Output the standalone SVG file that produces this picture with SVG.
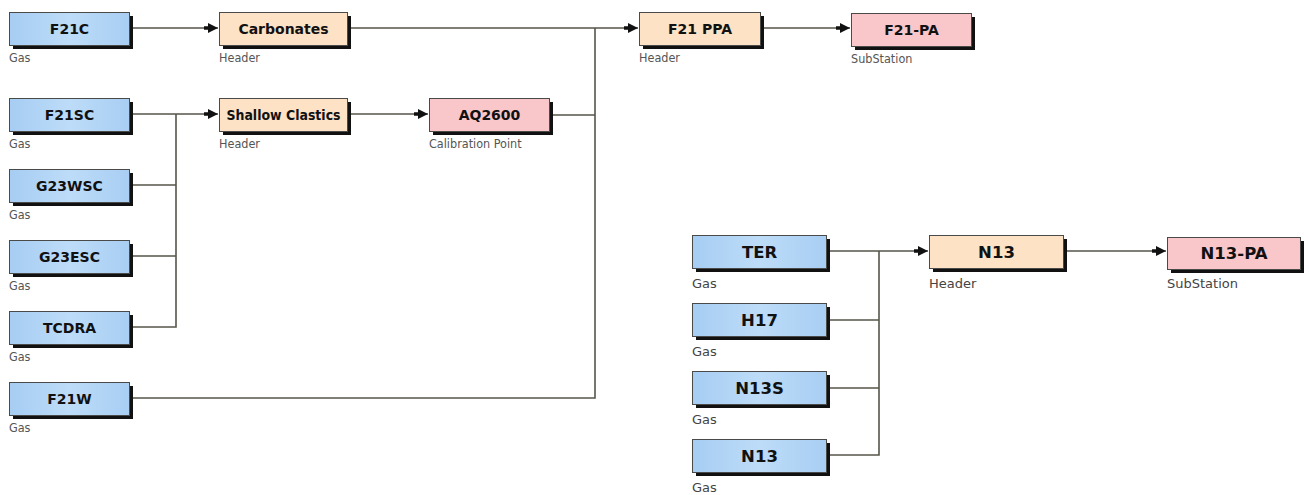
<svg xmlns="http://www.w3.org/2000/svg" width="1309" height="495" viewBox="0 0 1309 495">
<defs>
<linearGradient id="gBlue" x1="0" y1="0" x2="1" y2="0">
<stop offset="0" stop-color="#a6cdf3"/><stop offset="0.5" stop-color="#bddcf8"/><stop offset="1" stop-color="#a8cef3"/>
</linearGradient>
<marker id="arr" markerWidth="15" markerHeight="11" refX="14" refY="5.5" orient="auto" markerUnits="userSpaceOnUse">
<path d="M0,3.7 L4,3.7 L4,0.5 L14,5.5 L4,10.5 L4,7.3 L0,7.3 Z" fill="#111"/>
</marker>
<style>
.shadow{fill:#111}
.blue{fill:url(#gBlue);stroke:#4a4a48;stroke-width:1}
.hdr{fill:#fde2c6;stroke:#4a4a48;stroke-width:1}
.pink{fill:#f9c6ca;stroke:#4a4a48;stroke-width:1}
.t1{font-family:"DejaVu Sans",sans-serif;font-weight:bold;font-size:14px;fill:#111;text-anchor:middle}
.s1{font-family:"DejaVu Sans Condensed","DejaVu Sans",sans-serif;font-size:12.5px;fill:#555}
.t2{font-family:"DejaVu Sans",sans-serif;font-weight:bold;font-size:16.5px;fill:#111;text-anchor:middle}
.s2{font-family:"DejaVu Sans",sans-serif;font-size:13px;fill:#444}
.ln{fill:none;stroke:#55554a;stroke-width:1.6}
</style>
</defs>
<rect width="1309" height="495" fill="#fff"/>
<g id="connectors">
<path class="ln" d="M133,28 H218" marker-end="url(#arr)"/>
<path class="ln" d="M351,28 H638" marker-end="url(#arr)"/>
<path class="ln" d="M764,28 H850" marker-end="url(#arr)"/>
<path class="ln" d="M133,114 H218" marker-end="url(#arr)"/>
<path class="ln" d="M133,185 H176 M133,256 H176 M133,327 H176 V114"/>
<path class="ln" d="M351,114 H428" marker-end="url(#arr)"/>
<path class="ln" d="M553,115 H595 M133,398 H595 V28"/>
<path class="ln" d="M830,251 H928" marker-end="url(#arr)"/>
<path class="ln" d="M830,320 H879 M830,388 H879 M830,455 H879 V251"/>
<path class="ln" d="M1067,251 H1166" marker-end="url(#arr)"/>
</g>
<g id="F21C"><rect class="shadow" x="13" y="16" width="120" height="33"/><rect class="blue" x="9.5" y="12.5" width="120" height="33"/><text class="t1" x="69.5" y="34">F21C</text><text class="s1" x="9" y="62">Gas</text></g>
<g id="F21SC"><rect class="shadow" x="13" y="102" width="120" height="33"/><rect class="blue" x="9.5" y="98.5" width="120" height="33"/><text class="t1" x="69.5" y="120">F21SC</text><text class="s1" x="9" y="148">Gas</text></g>
<g id="G23WSC"><rect class="shadow" x="13" y="173" width="120" height="33"/><rect class="blue" x="9.5" y="169.5" width="120" height="33"/><text class="t1" x="69.5" y="191">G23WSC</text><text class="s1" x="9" y="219">Gas</text></g>
<g id="G23ESC"><rect class="shadow" x="13" y="244" width="120" height="33"/><rect class="blue" x="9.5" y="240.5" width="120" height="33"/><text class="t1" x="69.5" y="262">G23ESC</text><text class="s1" x="9" y="290">Gas</text></g>
<g id="TCDRA"><rect class="shadow" x="13" y="315" width="120" height="33"/><rect class="blue" x="9.5" y="311.5" width="120" height="33"/><text class="t1" x="69.5" y="333">TCDRA</text><text class="s1" x="9" y="361">Gas</text></g>
<g id="F21W"><rect class="shadow" x="13" y="386" width="120" height="33"/><rect class="blue" x="9.5" y="382.5" width="120" height="33"/><text class="t1" x="69.5" y="404">F21W</text><text class="s1" x="9" y="432">Gas</text></g>
<g id="Carbonates"><rect class="shadow" x="223" y="16" width="128" height="33"/><rect class="hdr" x="219.5" y="12.5" width="128" height="33"/><text class="t1" x="283.5" y="34">Carbonates</text><text class="s1" x="219" y="62">Header</text></g>
<g id="ShallowClastics"><rect class="shadow" x="223" y="102" width="128" height="33"/><rect class="hdr" x="219.5" y="98.5" width="128" height="33"/><text class="t1" x="283.5" y="120" textLength="114" lengthAdjust="spacingAndGlyphs">Shallow Clastics</text><text class="s1" x="219" y="148">Header</text></g>
<g id="AQ2600"><rect class="shadow" x="433" y="102" width="120" height="33"/><rect class="pink" x="429.5" y="98.5" width="120" height="33"/><text class="t1" x="489.5" y="120">AQ2600</text><text class="s1" x="429" y="148">Calibration Point</text></g>
<g id="F21PPA"><rect class="shadow" x="643" y="16" width="121" height="33"/><rect class="hdr" x="639.5" y="12.5" width="121" height="33"/><text class="t1" x="700" y="34">F21 PPA</text><text class="s1" x="639" y="62">Header</text></g>
<g id="F21-PA"><rect class="shadow" x="855" y="17" width="120" height="33"/><rect class="pink" x="851.5" y="13.5" width="120" height="33"/><text class="t1" x="911.5" y="35">F21-PA</text><text class="s1" x="851" y="63">SubStation</text></g>
<g id="TER"><rect class="shadow" x="696" y="239" width="134" height="33"/><rect class="blue" x="692.5" y="235.5" width="134" height="33"/><text class="t2" x="759.5" y="258">TER</text><text class="s2" x="692" y="288">Gas</text></g>
<g id="H17"><rect class="shadow" x="696" y="307" width="134" height="33"/><rect class="blue" x="692.5" y="303.5" width="134" height="33"/><text class="t2" x="759.5" y="326">H17</text><text class="s2" x="692" y="356">Gas</text></g>
<g id="N13S"><rect class="shadow" x="696" y="375" width="134" height="33"/><rect class="blue" x="692.5" y="371.5" width="134" height="33"/><text class="t2" x="759.5" y="394">N13S</text><text class="s2" x="692" y="424">Gas</text></g>
<g id="N13G"><rect class="shadow" x="696" y="443" width="134" height="33"/><rect class="blue" x="692.5" y="439.5" width="134" height="33"/><text class="t2" x="759.5" y="462">N13</text><text class="s2" x="692" y="492">Gas</text></g>
<g id="N13H"><rect class="shadow" x="933" y="239" width="134" height="33"/><rect class="hdr" x="929.5" y="235.5" width="134" height="33"/><text class="t2" x="996.5" y="258">N13</text><text class="s2" x="929" y="288">Header</text></g>
<g id="N13-PA"><rect class="shadow" x="1171" y="241" width="133" height="32"/><rect class="pink" x="1167.5" y="237.5" width="133" height="32"/><text class="t2" x="1234" y="259">N13-PA</text><text class="s2" x="1167" y="288">SubStation</text></g>
</svg>
